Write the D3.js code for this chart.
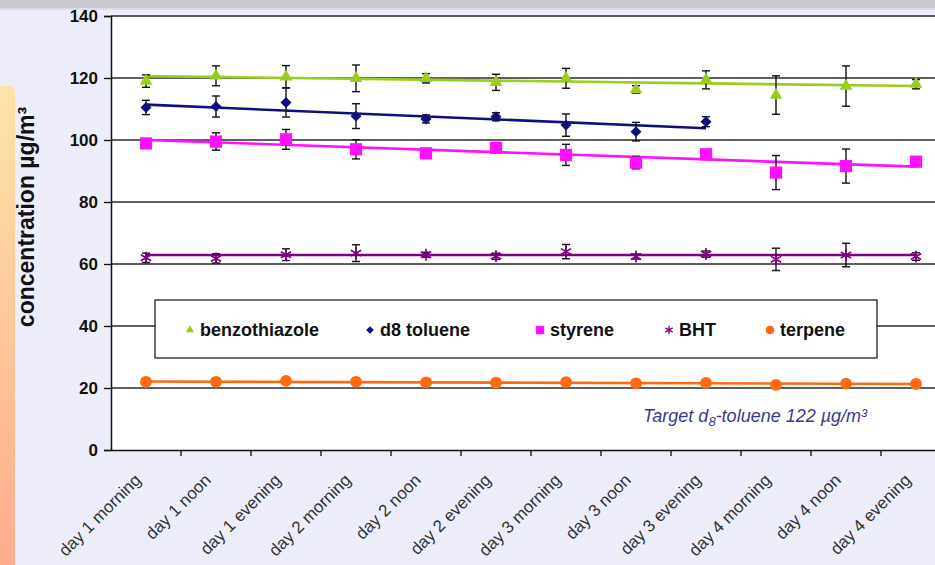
<!DOCTYPE html>
<html><head><meta charset="utf-8">
<script src="https://cdn.jsdelivr.net/npm/d3@7"></script>
<style>
html,body{margin:0;padding:0;background:#eeeefa;overflow:hidden;}
svg{display:block;font-family:Arial,"Liberation Sans",sans-serif;}
</style></head>
<body><svg id="c" width="935" height="565"></svg>
<script>
const categories = ["day 1 morning","day 1 noon","day 1 evening","day 2 morning","day 2 noon","day 2 evening","day 3 morning","day 3 noon","day 3 evening","day 4 morning","day 4 noon","day 4 evening"];
const yTicks = [0,20,40,60,80,100,120,140];
const seriesNames = ["benzothiazole","d8 toluene","styrene","BHT","terpene"];
const seriesColors = ["#9acd1e","#10107a","#ff10ff","#800080","#ff6a10"];
const benzothiazole = [119.0,120.7,120.4,119.9,119.9,118.6,119.9,116.3,119.4,114.5,117.4,118.0];
const benzothiazoleErr = [2.0,3.2,3.6,4.3,1.5,2.6,3.2,1.2,2.9,6.2,6.5,1.5];
const d8toluene = [110.5,110.8,112.1,107.7,106.8,107.5,104.8,102.7,105.9];
const d8tolueneErr = [2.3,3.4,4.7,4.0,1.3,1.3,3.6,3.0,1.6];
const styrene = [98.9,99.5,100.2,97.0,95.7,97.5,95.2,92.7,95.4,89.5,91.6,93.0];
const styreneErr = [0.8,2.8,3.2,3.1,0.6,0.5,3.4,2.0,0.6,5.5,5.5,0.8];
const bht = [62.0,61.8,63.0,63.5,63.0,62.5,64.0,62.4,63.2,61.5,62.9,62.4];
const bhtErr = [1.5,1.5,1.9,2.7,0.8,1.0,2.3,0.8,1.0,3.6,3.8,1.2];
const terpene = [22.0,22.0,22.3,22.0,21.8,21.7,21.9,21.5,21.6,21.0,21.4,21.3];
const terpeneErr = [0.4,0.4,0.4,0.4,0.4,0.4,0.4,0.4,0.4,0.4,0.4,0.4];
// trend lines: start value, end value, index of last point
const trendStart = [120.6,111.4,100.0,62.9,22.1];
const trendEnd = [117.4,103.8,91.4,62.9,21.3];
const trendLastIndex = [11,8,11,11,11];
const annotationText = ["Target d","8","-toluene 122 µg/m³"];
const yTitle = "concentration µg/m³";

const svg = d3.select("#c");
const defs = svg.append("defs");
const lg = defs.append("linearGradient").attr("id","sidebar").attr("x1",0).attr("y1",0).attr("x2",0).attr("y2",1);
lg.append("stop").attr("offset","0%").attr("stop-color","#fde3a8");
lg.append("stop").attr("offset","100%").attr("stop-color","#ffab8c");

svg.append("rect").attr("x",0).attr("y",0).attr("width",935).attr("height",8).attr("fill","#c9c9cf");
svg.append("rect").attr("x",0).attr("y",8).attr("width",935).attr("height",2).attr("fill","#dcdce8");
svg.append("rect").attr("x",-6).attr("y",86).attr("width",21).attr("height",490).attr("rx",5).attr("fill","url(#sidebar)");

const x = d3.scaleBand().domain(categories).range([111,951]);
const y = d3.scaleLinear().domain([0,140]).range([450,16]);
const cx = d => x(d) + x.bandwidth()/2;

svg.append("rect").attr("x",111).attr("y",16).attr("width",840).attr("height",434).attr("fill","#ffffff");

svg.append("g").selectAll("line").data(yTicks.filter(t=>t>0)).join("line")
  .attr("x1",111).attr("x2",951).attr("y1",d=>y(d)).attr("y2",d=>y(d))
  .attr("stroke","#2a2a2a").attr("stroke-width",1.3);

const yAxis = svg.append("g").attr("transform","translate(111,0)")
  .call(d3.axisLeft(y).tickValues(yTicks).tickSize(7).tickPadding(6));
yAxis.select(".domain").attr("stroke","#111").attr("stroke-width",1.5);
yAxis.selectAll(".tick line").attr("stroke","#111").attr("stroke-width",1.3);
yAxis.selectAll(".tick text").attr("font-size",17).attr("font-weight","bold").attr("fill","#111")
  .attr("font-family","Arial,'Liberation Sans',sans-serif");

const xAxis = svg.append("g").attr("transform","translate(0,450)")
  .call(d3.axisBottom(x).tickSize(0).tickFormat(""));
xAxis.select(".domain").attr("stroke","#111").attr("stroke-width",1.5);
svg.append("g").selectAll("line").data(categories.slice(1)).join("line")
  .attr("x1",d=>x(d)).attr("x2",d=>x(d)).attr("y1",450).attr("y2",456)
  .attr("stroke","#111").attr("stroke-width",1.3);
svg.append("g").selectAll("text").data(categories).join("text")
  .attr("transform",d=>`translate(${cx(d)-4},481) rotate(-45)`)
  .attr("text-anchor","end").attr("font-size",17).attr("fill","#333")
  .text(d=>d);

svg.append("text").attr("transform","translate(34,217) rotate(-90)")
  .attr("text-anchor","middle").attr("font-size",23).attr("font-weight","bold").attr("fill","#111")
  .text(yTitle);

const allData = [benzothiazole,d8toluene,styrene,bht,terpene];
const allErr = [benzothiazoleErr,d8tolueneErr,styreneErr,bhtErr,terpeneErr];
const symbols = [d3.symbolTriangle,d3.symbolSquare,d3.symbolSquare,d3.symbolAsterisk,d3.symbolCircle];
const symRot = [0,45,0,0,0];
const symSizes = [70,60,150,100,110];

const tl = svg.append("g");
seriesNames.forEach((n,i)=>{
  tl.append("line")
    .attr("x1",cx(categories[0])).attr("y1",y(trendStart[i]))
    .attr("x2",cx(categories[trendLastIndex[i]])).attr("y2",y(trendEnd[i]))
    .attr("stroke",seriesColors[i]).attr("stroke-width",2.6);
});

const eb = svg.append("g");
allData.forEach((vals,i)=>{
  vals.forEach((v,j)=>{
    const e = allErr[i][j];
    if (e < 0.7) return;
    const xx = cx(categories[j]);
    const g = eb.append("g").attr("stroke","#111").attr("stroke-width",1.4);
    g.append("line").attr("x1",xx).attr("x2",xx).attr("y1",y(v+e)).attr("y2",y(v-e));
    g.append("line").attr("x1",xx-4).attr("x2",xx+4).attr("y1",y(v+e)).attr("y2",y(v+e));
    g.append("line").attr("x1",xx-4).attr("x2",xx+4).attr("y1",y(v-e)).attr("y2",y(v-e));
  });
});

allData.forEach((vals,i)=>{
  const isStroke = symbols[i]===d3.symbolAsterisk;
  svg.append("g").selectAll("path").data(vals).join("path")
    .attr("transform",(d,j)=>`translate(${cx(categories[j])},${y(d)}) rotate(${symRot[i]})`)
    .attr("d",d3.symbol(symbols[i],symSizes[i]))
    .attr("fill",isStroke?"none":seriesColors[i])
    .attr("stroke",isStroke?seriesColors[i]:"none")
    .attr("stroke-width",isStroke?1.7:0);
});

const leg = svg.append("g");
leg.append("rect").attr("x",155).attr("y",300).attr("width",722).attr("height",58)
  .attr("fill","#fff").attr("stroke","#222").attr("stroke-width",1.3);
const legX = [190,370,540,669,770];
const legSizes = [28,30,70,50,60];
seriesNames.forEach((n,i)=>{
  const isStroke = symbols[i]===d3.symbolAsterisk;
  leg.append("path").attr("transform",`translate(${legX[i]},330) rotate(${symRot[i]})`)
    .attr("d",d3.symbol(symbols[i],legSizes[i]))
    .attr("fill",isStroke?"none":seriesColors[i])
    .attr("stroke",isStroke?seriesColors[i]:"none").attr("stroke-width",isStroke?1.3:0);
  leg.append("text").attr("x",legX[i]+10).attr("y",336)
    .attr("font-size",18).attr("font-weight","bold").attr("fill","#111").text(n);
});

const ann = svg.append("text").attr("x",643).attr("y",422).attr("font-size",18)
  .attr("font-style","italic").attr("fill","#3a3a8c");
ann.append("tspan").text(annotationText[0]);
ann.append("tspan").attr("dy",4).attr("font-size",13).text(annotationText[1]);
ann.append("tspan").attr("dy",-4).text(annotationText[2]);
</script></body></html>
